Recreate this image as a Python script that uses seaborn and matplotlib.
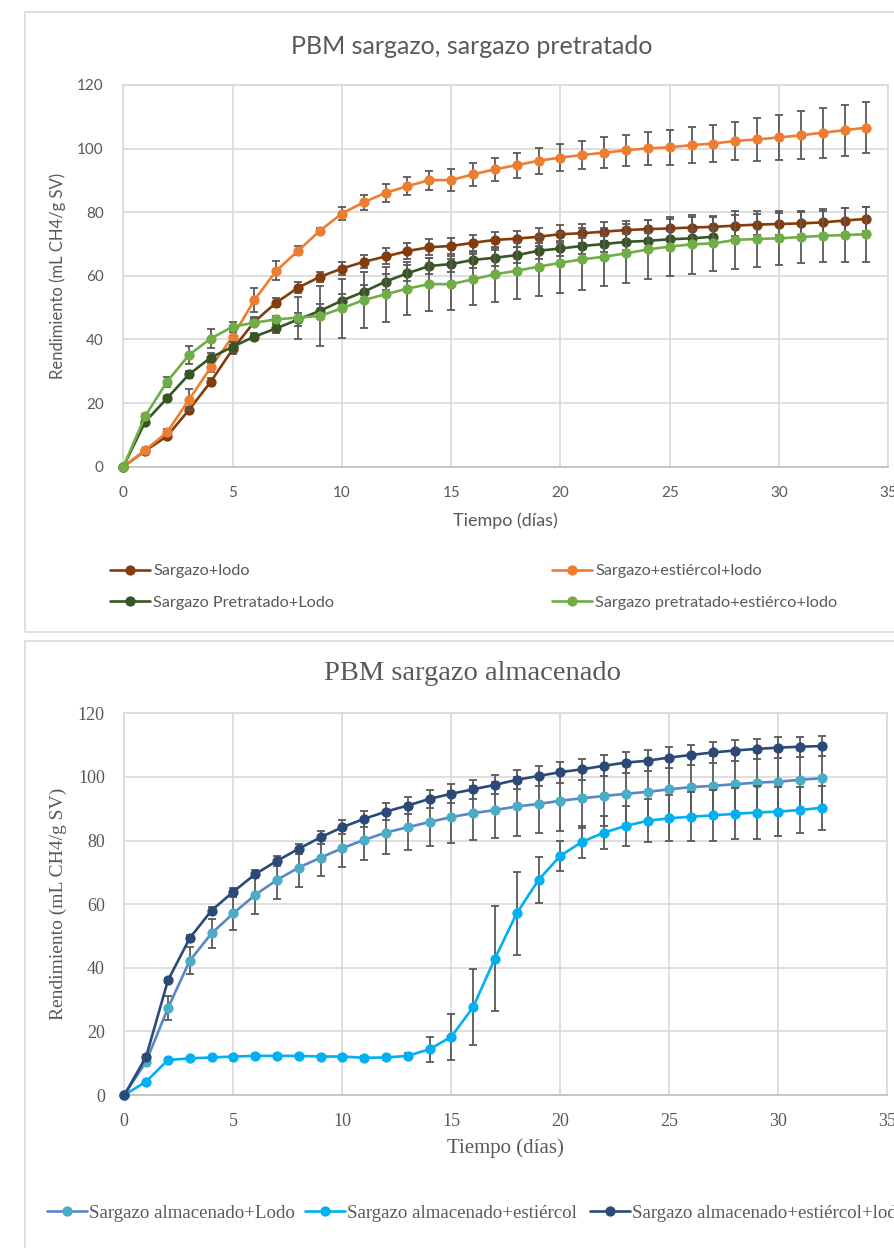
import numpy as np
import pandas as pd
import matplotlib
matplotlib.use("Agg")
import matplotlib.pyplot as plt
import seaborn as sns
from matplotlib.lines import Line2D
from matplotlib.patches import Rectangle

# ---------------- data: top chart ----------------
dias_top = list(range(0, 35))
dias_pre_lodo = list(range(0, 28))

sargazo_lodo = [0, 5.0, 9.6, 17.8, 26.7, 36.9, 45.6, 51.6, 56.3, 59.7, 62.3, 64.4, 66.1, 67.8, 69.0,
                69.4, 70.4, 71.3, 71.7, 72.3, 73.1, 73.4, 73.9, 74.4, 74.7, 74.9, 75.2, 75.4, 75.8,
                76.1, 76.3, 76.5, 76.8, 77.4, 77.9]
sargazo_lodo_err = [0, 0.5, 0.8, 1.0, 1.2, 1.5, 1.5, 1.5, 1.8, 1.5, 2.0, 2.0, 2.5, 2.5, 2.5, 2.5, 2.5,
                    2.5, 2.5, 2.8, 2.8, 3.0, 3.0, 3.0, 3.0, 3.0, 3.2, 3.2, 3.3, 3.4, 3.5, 3.6, 3.7,
                    3.8, 3.8]

sargazo_est_lodo = [0, 5.2, 10.8, 21.0, 31.2, 40.9, 52.4, 61.6, 67.9, 74.2, 79.6, 83.1, 86.1, 88.2,
                    90.1, 90.1, 91.9, 93.5, 94.8, 96.2, 97.2, 98.0, 98.7, 99.5, 100.1, 100.4, 101.1,
                    101.6, 102.4, 102.9, 103.5, 104.2, 105.0, 105.8, 106.6]
sargazo_est_lodo_err = [0, 0.5, 1.2, 3.3, 1.5, 1.5, 3.7, 3.0, 1.5, 0.8, 1.9, 2.4, 2.8, 2.8, 3.0,
                        3.4, 3.5, 3.7, 3.9, 4.1, 4.2, 4.4, 4.8, 4.9, 5.2, 5.5, 5.6, 5.9, 6.1, 6.7,
                        7.2, 7.5, 7.8, 8.0, 7.9]

pretratado_lodo = [0, 14.1, 21.5, 29.0, 34.3, 37.7, 40.9, 43.5, 46.3, 49.0, 52.2, 55.0, 58.2, 60.8,
                   63.1, 63.7, 65.0, 65.7, 66.5, 67.9, 68.6, 69.4, 70.0, 70.7, 71.0, 71.5, 71.8, 72.3]
pretratado_lodo_err = [0, 0.5, 0.8, 1.0, 1.5, 1.5, 1.0, 1.5, 2.0, 2.0, 2.0, 2.0, 2.5, 2.5, 2.5, 2.5,
                       2.5, 2.5, 2.5, 2.5, 2.5, 2.5, 2.5, 2.5, 2.5, 2.5, 2.5, 2.5]

pretratado_est_lodo = [0, 15.9, 26.7, 35.1, 40.3, 44.0, 45.3, 46.3, 46.9, 47.4, 49.8, 52.4, 54.2,
                       56.0, 57.4, 57.4, 58.9, 60.5, 61.6, 62.9, 64.1, 65.2, 66.0, 67.1, 68.3, 69.2,
                       69.9, 70.2, 71.3, 71.6, 71.8, 72.2, 72.6, 72.8, 73.1]
pretratado_est_lodo_err = [0, 0.8, 1.5, 2.9, 3.0, 1.5, 1.0, 1.0, 6.6, 9.3, 9.2, 8.8, 8.6, 8.4, 8.3,
                           8.0, 8.0, 8.6, 8.9, 9.3, 9.5, 9.8, 9.1, 9.3, 9.3, 9.4, 9.2, 8.7, 9.0,
                           8.9, 8.5, 8.3, 8.4, 8.6, 8.7]

# ---------------- data: bottom chart ----------------
dias_bot = list(range(0, 33))

almacenado_lodo = [0, 10.5, 27.3, 42.2, 50.8, 57.1, 62.9, 67.6, 71.5, 74.6, 77.6, 80.2, 82.5, 84.2,
                   85.8, 87.4, 88.6, 89.6, 90.7, 91.5, 92.5, 93.3, 94.0, 94.7, 95.3, 96.1, 96.8,
                   97.2, 97.7, 98.2, 98.5, 99.1, 99.6]
almacenado_lodo_err = [0, 1.5, 3.8, 4.2, 4.5, 5.2, 6.0, 6.0, 6.0, 5.6, 6.0, 6.3, 6.7, 7.3, 7.6, 8.1,
                       8.4, 8.7, 9.2, 9.2, 9.6, 9.5, 9.5, 9.5, 9.5, 9.5, 9.5, 9.5, 9.5, 9.5, 9.5,
                       9.5, 9.5]

almacenado_est = [0, 4.2, 11.0, 11.5, 11.8, 12.1, 12.3, 12.3, 12.3, 12.1, 12.1, 11.7, 11.8, 12.3,
                  14.4, 18.3, 27.6, 42.9, 57.1, 67.6, 75.2, 79.6, 82.5, 84.6, 86.2, 87.0, 87.5,
                  87.9, 88.4, 88.8, 89.1, 89.6, 90.3]
almacenado_est_err = [0, 0.3, 0.5, 0.5, 0.5, 0.5, 0.5, 0.5, 0.5, 0.5, 0.5, 0.5, 0.5, 1.0, 3.9, 7.3,
                      12.0, 16.4, 13.0, 7.1, 4.8, 5.1, 5.2, 6.2, 6.8, 7.3, 7.8, 8.0, 8.0, 8.2, 7.6,
                      7.3, 6.9]

almacenado_est_lodo = [0, 12.0, 36.0, 49.3, 58.0, 63.9, 69.4, 73.6, 77.4, 81.0, 84.2, 86.8, 89.1,
                       91.0, 93.1, 94.7, 96.1, 97.5, 99.1, 100.3, 101.5, 102.4, 103.5, 104.5,
                       105.1, 106.1, 106.9, 107.7, 108.3, 108.8, 109.2, 109.5, 109.7]
almacenado_est_lodo_err = [0, 0.5, 0.8, 1.0, 1.0, 1.2, 1.2, 1.5, 1.5, 2.0, 2.2, 2.4, 2.7, 2.8, 2.8,
                           3.0, 3.0, 3.0, 3.0, 3.2, 3.3, 3.3, 3.3, 3.3, 3.3, 3.3, 3.2, 3.2, 3.2,
                           3.2, 3.2, 3.2, 3.1]

x_ticks = [0, 5, 10, 15, 20, 25, 30, 35]
y_ticks = [0, 20, 40, 60, 80, 100, 120]

top_series = [
    ("Sargazo+lodo", dias_top, sargazo_lodo, sargazo_lodo_err, "#843C0C", "#843C0C"),
    ("Sargazo+estiércol+lodo", dias_top, sargazo_est_lodo, sargazo_est_lodo_err, "#ED7D31", "#ED7D31"),
    ("Sargazo Pretratado+Lodo", dias_pre_lodo, pretratado_lodo, pretratado_lodo_err, "#375623", "#375623"),
    ("Sargazo pretratado+estiérco+lodo", dias_top, pretratado_est_lodo, pretratado_est_lodo_err, "#70AD47", "#70AD47"),
]
bot_series = [
    ("Sargazo almacenado+Lodo", dias_bot, almacenado_lodo, almacenado_lodo_err, "#5B86C6", "#4BACC6"),
    ("Sargazo almacenado+estiércol", dias_bot, almacenado_est, almacenado_est_err, "#00B0F0", "#00B0F0"),
    ("Sargazo almacenado+estiércol+lodo", dias_bot, almacenado_est_lodo, almacenado_est_lodo_err, "#2B4A78", "#2B4A78"),
]

sns.set_style("white")
TOP_FONT = ["Lato", "DejaVu Sans"]
BOT_FONT = ["Liberation Serif", "DejaVu Serif"]
TXT = "#595959"
GRID = "#D9D9D9"

W, H = 894, 1248
fig = plt.figure(figsize=(W / 100, H / 100), dpi=100)

# panel borders
fig.add_artist(Rectangle((25 / W, 1 - 632 / H), 1.0, (632 - 12) / H, transform=fig.transFigure,
                         fill=False, edgecolor=GRID, lw=1.2))
fig.add_artist(Rectangle((25 / W, -0.2), 1.0, 0.2 + 1 - 641 / H, transform=fig.transFigure,
                         fill=False, edgecolor=GRID, lw=1.2))


def draw(ax, series, font, title, title_y, title_size, xlab_size, ylab_size, tick_size, xpad, xlabpad):
    for i, (name, d, v, e, lc, mc) in enumerate(series):
        z = 3 + i * 2
        ax.errorbar(d, v, yerr=e, fmt="none", ecolor="#595959", elinewidth=1.3,
                    capsize=3.2, capthick=1.3, zorder=z)
        df = pd.DataFrame({"dia": d, "valor": v})
        sns.lineplot(data=df, x="dia", y="valor", ax=ax, color=lc, linewidth=1.9,
                     marker="o", markersize=7.4, markerfacecolor=mc, markeredgecolor=mc,
                     markeredgewidth=0, zorder=z + 1, legend=False)
        ax.lines[-1].set_clip_on(False)
    ax.set_xlim(0, 35)
    ax.set_ylim(0, 120)
    ax.set_xticks(x_ticks)
    ax.set_yticks(y_ticks)
    ax.grid(True, color=GRID, lw=1.2)
    ax.set_axisbelow(True)
    for s in ax.spines.values():
        s.set_color(GRID)
        s.set_linewidth(1.2)
    ax.spines["bottom"].set_color("#BFBFBF")
    ax.tick_params(length=0, colors=TXT, labelsize=tick_size)
    ax.tick_params(axis="x", pad=xpad)
    ax.tick_params(axis="y", pad=14)
    for lab in ax.get_xticklabels() + ax.get_yticklabels():
        lab.set_family(font)
    ax.set_xlabel("Tiempo (días)", color=TXT, fontsize=xlab_size, family=font, labelpad=xlabpad)
    ax.set_ylabel("Rendimiento (mL CH4/g SV)", color=TXT, fontsize=ylab_size, family=font, labelpad=8)
    fig.text(472 / W, 1 - title_y / H, title, ha="center", va="center", color=TXT,
             fontsize=title_size, family=font)


ax1 = fig.add_axes([123.3 / W, 1 - 466.7 / H, 765 / W, 381.7 / H])
draw(ax1, top_series, TOP_FONT, "PBM sargazo, sargazo pretratado", 46, 18, 13, 12, 11, 14, 9)

ax2 = fig.add_axes([124.3 / W, 1 - 1095 / H, 763 / W, 381.7 / H])
draw(ax2, bot_series, BOT_FONT, "PBM sargazo almacenado", 674, 20.5, 15, 14, 13, 13, 6)


def legend_entry(name, lc, mc, x, y, font, size, hl, tp):
    h = Line2D([], [], color=lc, lw=1.9, marker="o", markersize=7.4,
               markerfacecolor=mc, markeredgewidth=0)
    leg = fig.legend(handles=[h], labels=[name], loc="center left",
                     bbox_to_anchor=(x / W, 1 - y / H), frameon=False, borderpad=0,
                     borderaxespad=0, handlelength=hl, handletextpad=tp,
                     prop={"family": font, "size": size})
    for t in leg.get_texts():
        t.set_color(TXT)


top_pos = [(110, 571), (552, 571), (110, 603), (552, 603)]
for (name, d, v, e, lc, mc), (x, y) in zip(top_series, top_pos):
    legend_entry(name, lc, mc, x, y, TOP_FONT, 11.7, 2.45, 0.2)

bot_pos = [(47, 1213), (305, 1213), (590, 1213)]
for (name, d, v, e, lc, mc), (x, y) in zip(bot_series, bot_pos):
    legend_entry(name, lc, mc, x, y, BOT_FONT, 13.6, 2.1, 0.1)

fig.savefig("out.png", dpi=100)
